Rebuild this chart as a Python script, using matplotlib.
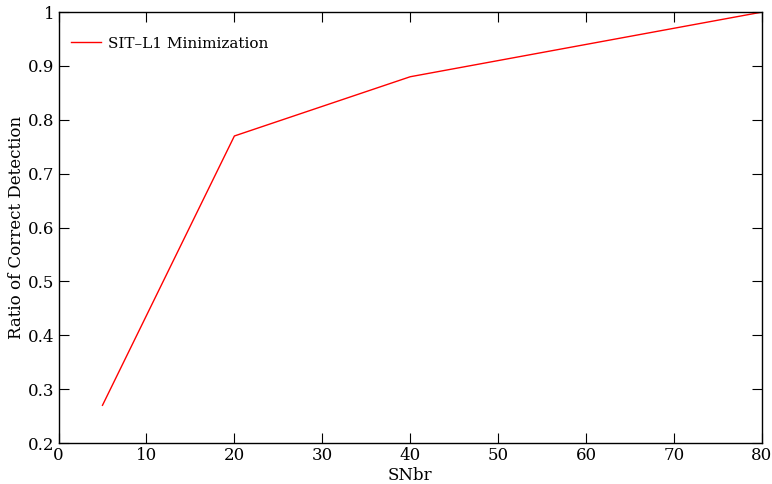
import matplotlib
matplotlib.use('Agg')
import matplotlib.pyplot as plt

# datos
snbr = [5, 20, 40, 80]
ratio = [0.27, 0.77, 0.88, 1.0]
serie = 'SIT\u2013L1 Minimization'

plt.rcParams['font.family'] = ['DejaVu Serif']
plt.rcParams['font.size'] = 12

fig = plt.figure(figsize=(7.72, 4.84), dpi=100)
ax = fig.add_axes([0.0758, 0.0847, 0.987 - 0.0758, 0.975 - 0.0847])
ax.plot(snbr, ratio, color='red', linewidth=1, label=serie)

ax.set_xlim(0, 80)
ax.set_ylim(0.2, 1)
ax.set_xticks(range(0, 81, 10))
ax.set_yticks([0.2, 0.3, 0.4, 0.5, 0.6, 0.7, 0.8, 0.9, 1])
ax.set_yticklabels(['0.2', '0.3', '0.4', '0.5', '0.6', '0.7', '0.8', '0.9', '1'])
ax.tick_params(direction='in', length=7, width=0.8, top=True, right=True, pad=3)
for s in ax.spines.values():
    s.set_linewidth(1)

ax.set_xlabel('SNbr', labelpad=2)
ax.set_ylabel('Ratio of Correct Detection', labelpad=2)
ax.legend(loc='upper left', bbox_to_anchor=(-0.002, 0.975), frameon=False,
          fontsize=11, handlelength=2.0, handletextpad=0.4)

fig.savefig('out.png', dpi=100)
